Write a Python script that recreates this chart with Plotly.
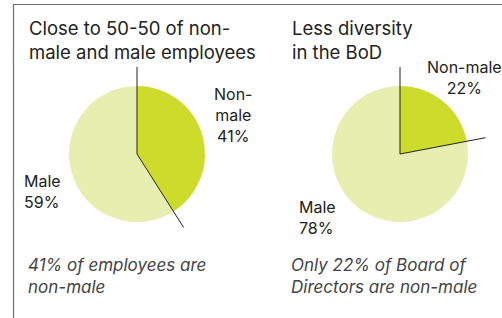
import math
import plotly.graph_objects as go

W, H = 502, 318

# Data
categories = ["Non-male", "Male"]
employees = [41, 59]
board = [22, 78]
titles = ["Close to 50-50 of non-<br>male and male employees", "Less diversity<br>in the BoD"]
notes = ["41% of employees are<br>non-male", "Only 22% of Board of<br>Directors are non-male"]

colors = ["#cddc2b", "#e6eeb0"]
FONT = "Inter, Liberation Sans, Arial, sans-serif"

# pie geometry (pixels)
centers = [(137, 154), (400, 154)]
R = 68
LINE_LEN = 87

fig = go.Figure()
for (cx, cy), vals in zip(centers, [employees, board]):
    fig.add_trace(go.Pie(
        labels=categories, values=vals, sort=False, direction="clockwise", rotation=0,
        marker=dict(colors=colors, line=dict(width=0)), textinfo="none", hoverinfo="label+percent",
        showlegend=False,
        domain=dict(x=[(cx - R) / W, (cx + R) / W], y=[(H - cy - R) / H, (H - cy + R) / H]),
    ))

shapes = []
for (cx, cy), vals in zip(centers, [employees, board]):
    frac = vals[0] / sum(vals)
    shapes.append(dict(type="line", xref="paper", yref="paper",
                       x0=cx / W, y0=(H - cy) / H, x1=cx / W, y1=(H - cy + LINE_LEN) / H,
                       line=dict(color="#222", width=1)))
    ang = frac * 2 * math.pi
    ex = cx + LINE_LEN * math.sin(ang)
    ey = cy - LINE_LEN * math.cos(ang)
    shapes.append(dict(type="line", xref="paper", yref="paper",
                       x0=cx / W, y0=(H - cy) / H, x1=ex / W, y1=(H - ey) / H,
                       line=dict(color="#222", width=1)))
# frame (top and left edges of a box running off the page)
shapes.append(dict(type="rect", xref="paper", yref="paper", x0=13.5 / W, x1=1.05, y0=-0.05, y1=(H - 4.5) / H,
                   line=dict(color="#707070", width=1.2), fillcolor="rgba(0,0,0,0)"))

ann = []
def txt(x, y, t, size, xanchor="left", italic=False, color="#222", align="left"):
    ann.append(dict(x=x / W, y=(H - y) / H, xref="paper", yref="paper", text=(f"<i>{t}</i>" if italic else t),
                    showarrow=False, xanchor=xanchor, yanchor="middle", align=align,
                    font=dict(family=FONT, size=size, color=color)))

txt(27, 40, titles[0], 18.5)
txt(290, 40, titles[1], 18.5)
txt(233, 115, f"Non-<br>male<br>{employees[0]}%", 16, xanchor="center", align="center")
txt(22, 191, f"{categories[1]}<br>{employees[1]}%", 16)
txt(464, 78, f"{categories[0]}<br>{board[0]}%", 16, xanchor="center", align="center")
txt(317, 217, f"{categories[1]}<br>{board[1]}%", 16, xanchor="center", align="left")
txt(26, 276, notes[0], 17, italic=True, color="#444")
txt(289, 276, notes[1], 17, italic=True, color="#444")

fig.update_layout(width=W, height=H, margin=dict(l=0, r=0, t=0, b=0),
                  paper_bgcolor="white", plot_bgcolor="white",
                  shapes=shapes, annotations=ann)
fig.write_html("out.html", config={"displayModeBar": False},
               post_script="document.body.style.margin='0';document.body.style.overflow='hidden';")
